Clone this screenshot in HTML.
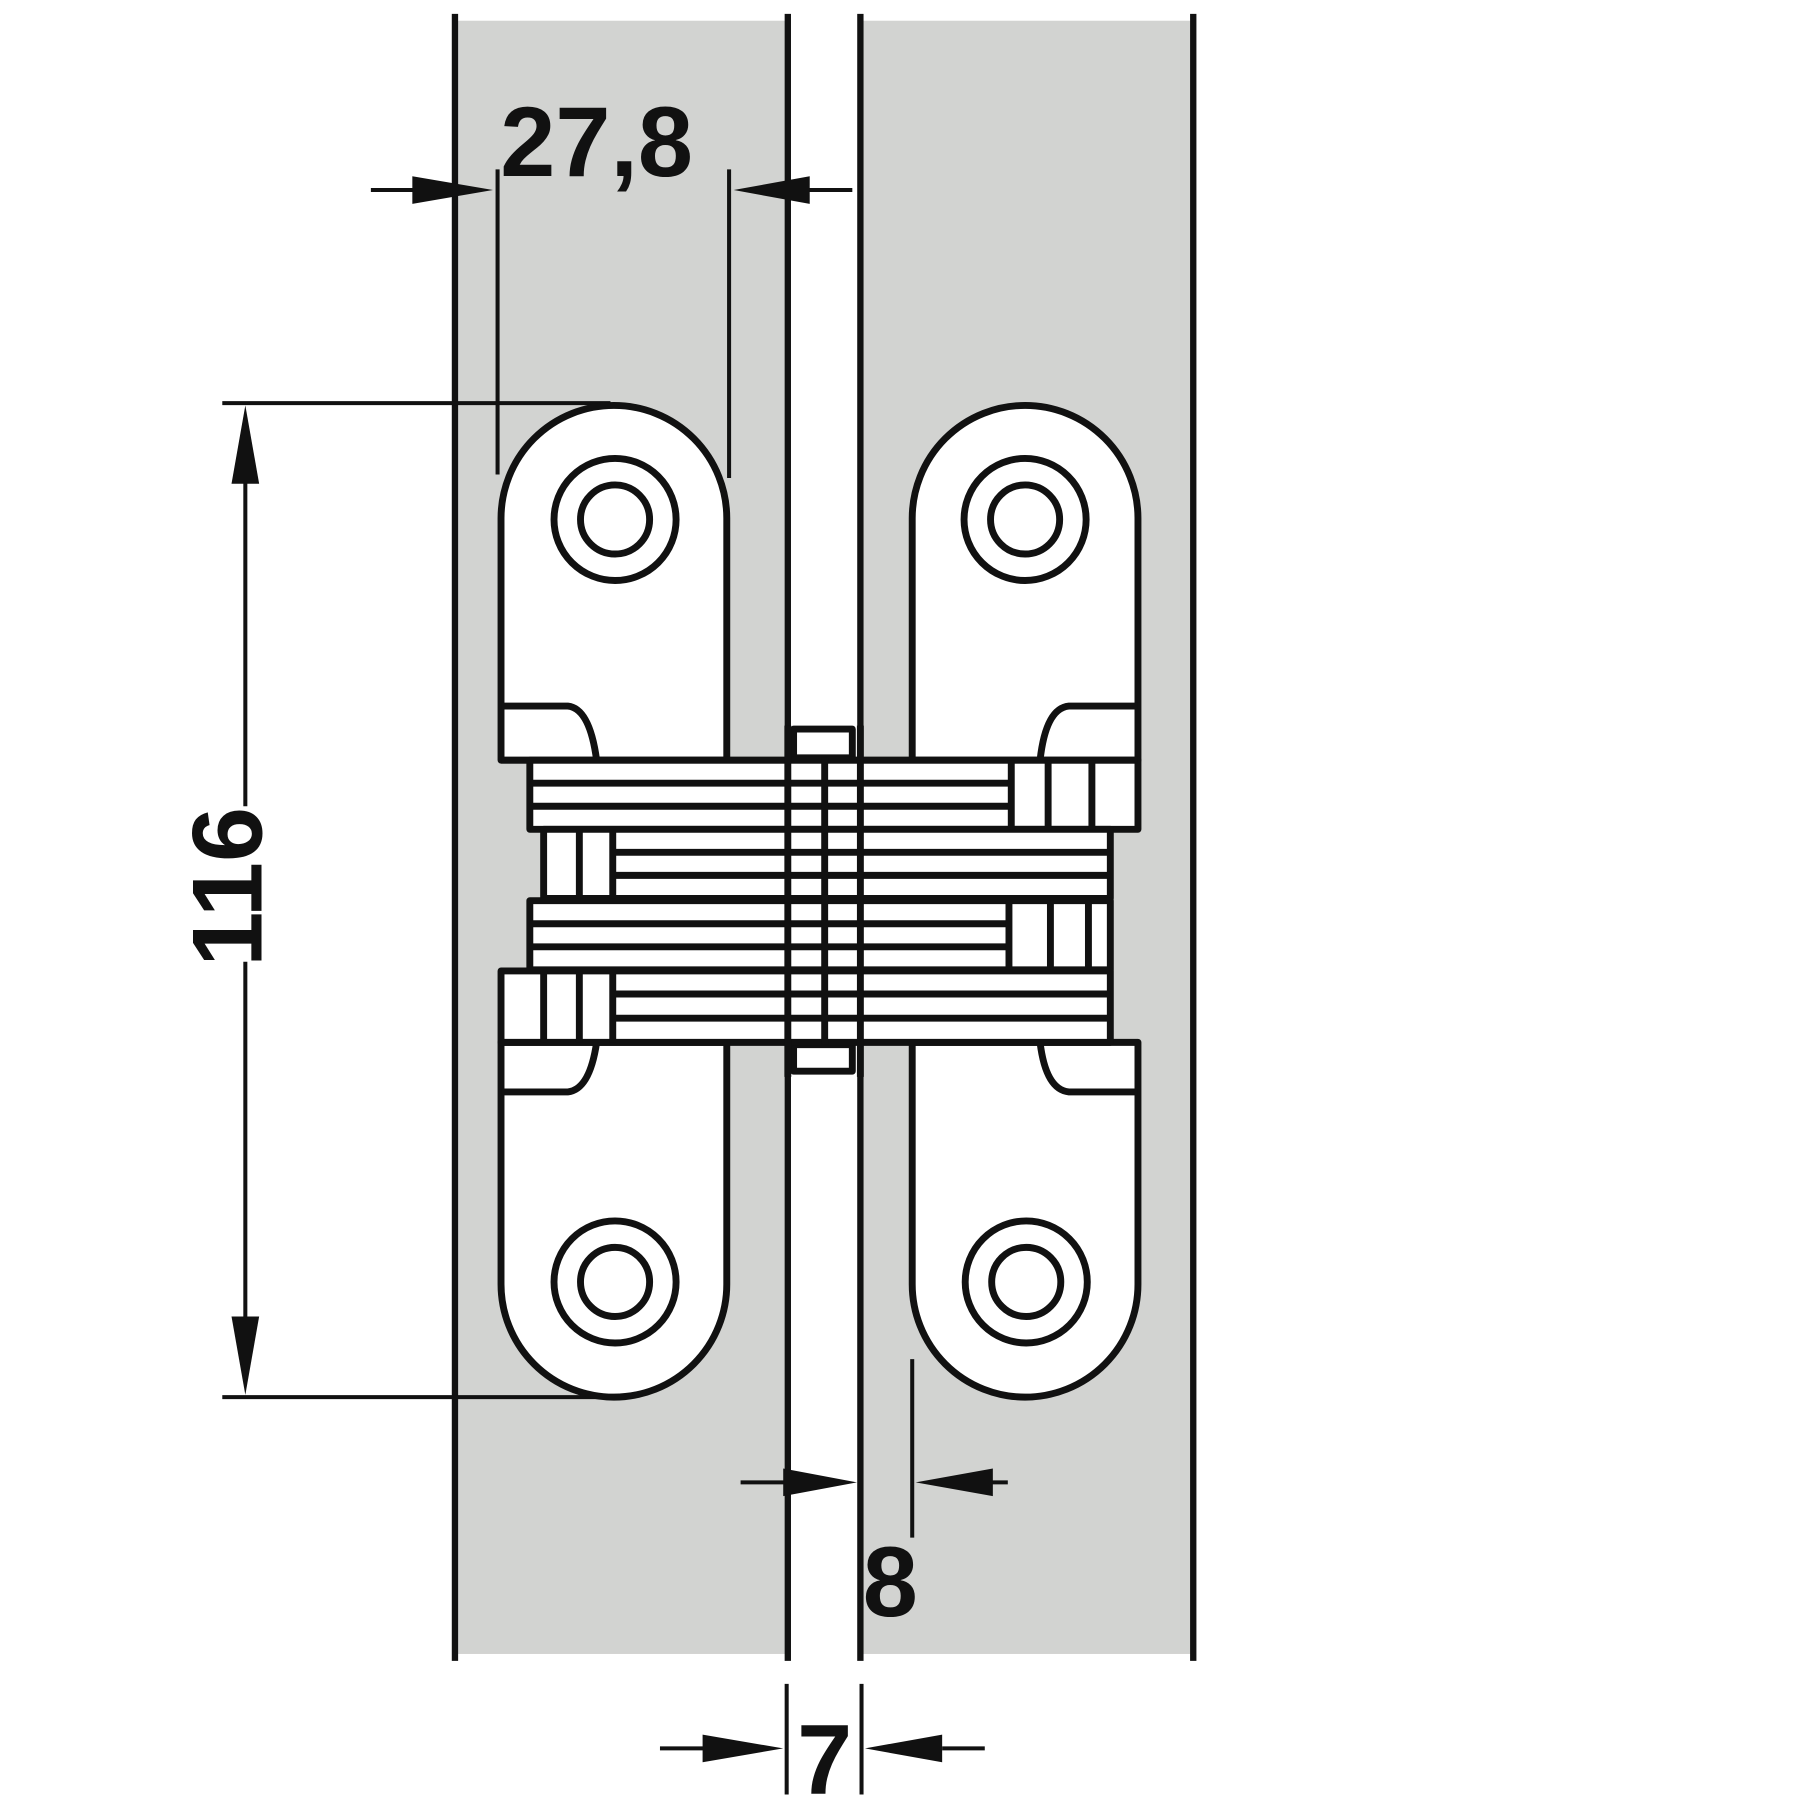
<!DOCTYPE html>
<html><head><meta charset="utf-8"><style>html,body{margin:0;padding:0;background:#fff}svg{display:block}</style></head>
<body>
<svg width="1806" height="1806" viewBox="0 0 1568 1568" xmlns="http://www.w3.org/2000/svg">
<g fill="#d2d3d1"><rect x="395" y="18" width="289" height="1418"/><rect x="747" y="18" width="289" height="1418"/></g>
<g stroke="#111" stroke-width="5.5" fill="none">
<line x1="395" y1="12" x2="395" y2="1442"/><line x1="684" y1="12" x2="684" y2="1442"/>
<line x1="747" y1="12" x2="747" y2="1442"/><line x1="1036" y1="12" x2="1036" y2="1442"/>
</g>
<g stroke="#111" stroke-width="3.5" fill="none">
<line x1="322" y1="165" x2="395" y2="165"/><line x1="432" y1="147" x2="432" y2="412"/>
<line x1="633" y1="147" x2="633" y2="415"/><line x1="700" y1="165" x2="740" y2="165"/>
<line x1="193" y1="350" x2="530" y2="350"/><line x1="193" y1="1213" x2="530" y2="1213"/>
<line x1="213" y1="410" x2="213" y2="700"/><line x1="213" y1="835" x2="213" y2="1150"/>
<line x1="643" y1="1287" x2="684" y2="1287"/><line x1="860" y1="1287" x2="875" y2="1287"/>
<line x1="792" y1="1180" x2="792" y2="1335"/>
<line x1="683" y1="1462" x2="683" y2="1558"/><line x1="748" y1="1462" x2="748" y2="1558"/>
<line x1="573" y1="1518" x2="612" y2="1518"/><line x1="818" y1="1518" x2="855" y2="1518"/>
</g>
<g fill="#111">
<polygon points="358,153 428,165 358,177"/>
<polygon points="703,153 637,165 703,177"/>
<polygon points="201,420 213,352 225,420"/>
<polygon points="201,1143 213,1211 225,1143"/>
<polygon points="680,1275 744,1287 680,1299"/>
<polygon points="862,1275 795,1287 862,1299"/>
<polygon points="610,1506 680,1518 610,1530"/>
<polygon points="818,1506 751,1518 818,1530"/>
</g>
<g font-family="Liberation Sans, sans-serif" font-weight="bold" fill="#111">
<text x="518" y="153" font-size="86" text-anchor="middle">27,8</text>
<text x="773" y="1403" font-size="86" text-anchor="middle">8</text>
<text x="716" y="1557" font-size="86" text-anchor="middle">7</text>
<text transform="translate(227,770) rotate(-90)" font-size="86" text-anchor="middle">116</text>
</g>
<g stroke="#111" stroke-width="6" fill="#fff" stroke-linejoin="round">
<path d="M435,660 L435,450 A98,98 0 0 1 631,450 L631,660 Z"/>
<path d="M435,613 L493,613 Q512,615 518,660" fill="none"/>
<path d="M792,660 L792,450 A98,98 0 0 1 988,450 L988,660 Z"/>
<path d="M988,613 L928,613 Q908,615 903,660" fill="none"/>
<path d="M435,905 L631,905 L631,1115 A98,98 0 0 1 435,1115 Z"/>
<path d="M435,948 L493,948 Q512,946 518,905" fill="none"/>
<path d="M792,905 L988,905 L988,1115 A98,98 0 0 1 792,1115 Z"/>
<path d="M988,948 L928,948 Q908,946 903,905" fill="none"/>
<circle cx="534" cy="451" r="53"/><circle cx="534" cy="451" r="30"/>
<circle cx="890" cy="451" r="53"/><circle cx="890" cy="451" r="30"/>
<circle cx="534" cy="1113" r="53"/><circle cx="534" cy="1113" r="30"/>
<circle cx="891" cy="1113" r="53"/><circle cx="891" cy="1113" r="30"/>
<rect x="689" y="633" width="51" height="25"/>
<rect x="689" y="907" width="51" height="23"/>
<rect x="460" y="660" width="528" height="60"/>
<rect x="472" y="720" width="492" height="60"/>
<rect x="460" y="782" width="504" height="60"/>
<rect x="435" y="843" width="529" height="62"/>
</g>
<g stroke="#111" stroke-width="6" fill="none">
<line x1="435" y1="660" x2="988" y2="660"/>
<line x1="460" y1="680" x2="878" y2="680"/><line x1="460" y1="700" x2="878" y2="700"/>
<line x1="878" y1="660" x2="878" y2="720"/><line x1="910" y1="660" x2="910" y2="720"/><line x1="948" y1="660" x2="948" y2="720"/>
<line x1="532" y1="740" x2="964" y2="740"/><line x1="532" y1="760" x2="964" y2="760"/>
<line x1="503" y1="720" x2="503" y2="780"/><line x1="532" y1="720" x2="532" y2="780"/>
<line x1="460" y1="802" x2="876" y2="802"/><line x1="460" y1="822" x2="876" y2="822"/>
<line x1="876" y1="782" x2="876" y2="842"/><line x1="912" y1="782" x2="912" y2="842"/><line x1="945" y1="782" x2="945" y2="842"/>
<line x1="532" y1="863" x2="964" y2="863"/><line x1="532" y1="884" x2="964" y2="884"/>
<line x1="472" y1="843" x2="472" y2="905"/><line x1="503" y1="843" x2="503" y2="905"/><line x1="532" y1="843" x2="532" y2="905"/>
<line x1="684" y1="630" x2="684" y2="935"/><line x1="747" y1="630" x2="747" y2="935"/>
<line x1="716" y1="658" x2="716" y2="907"/>
</g>
</svg>
</body></html>
